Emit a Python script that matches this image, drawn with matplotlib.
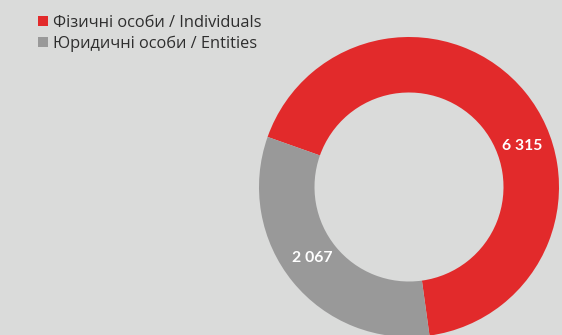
import numpy as np
import matplotlib
matplotlib.use("Agg")
import matplotlib.pyplot as plt

# slice shares as measured on the ring, and the printed counts
categories = ["Фізичні особи / Individuals", "Юридичні особи / Entities"]
shares = [67.4, 32.6]
value_labels = ["6 315", "2 067"]
label_angles = [20, 216.5]  # degrees where the counts sit on the ring

C_RED = "#e22a2b"; C_GREY = "#999999"; C_BG = "#dadbda"; C_TXT = "#2e2e2e"

plt.rcParams["font.family"] = ["Lato", "DejaVu Sans"]

fig = plt.figure(figsize=(5.62, 3.35), dpi=100, facecolor=C_BG)
ax = fig.add_axes([0, 0, 1, 1])
ax.set_facecolor(C_BG)

cx, cy, R = 409, 148, 150
wedges, _ = ax.pie(shares, colors=[C_RED, C_GREY], startangle=160.5, counterclock=False,
                   center=(cx, cy), radius=R, wedgeprops=dict(width=R - 94.5, linewidth=0))
ax.set_xlim(0, 562); ax.set_ylim(0, 335)
ax.set_aspect("equal")
ax.axis("off")

r_lab = 120
for txt, a in zip(value_labels, label_angles):
    t = np.deg2rad(a)
    ax.text(cx + r_lab * np.cos(t), cy + r_lab * np.sin(t), txt, ha="center", va="center",
            color="white", fontsize=11.3, fontweight="bold")

leg = ax.legend(wedges, categories, loc="upper left", bbox_to_anchor=(0.056, 0.976),
                frameon=False, handlelength=0.61, handleheight=0.61, handletextpad=0.32,
                labelspacing=0.28, prop={"family": ["Open Sans", "DejaVu Sans"], "size": 11.8},
                labelcolor=C_TXT, borderaxespad=0)

fig.savefig("out.png", dpi=100, facecolor=C_BG)
